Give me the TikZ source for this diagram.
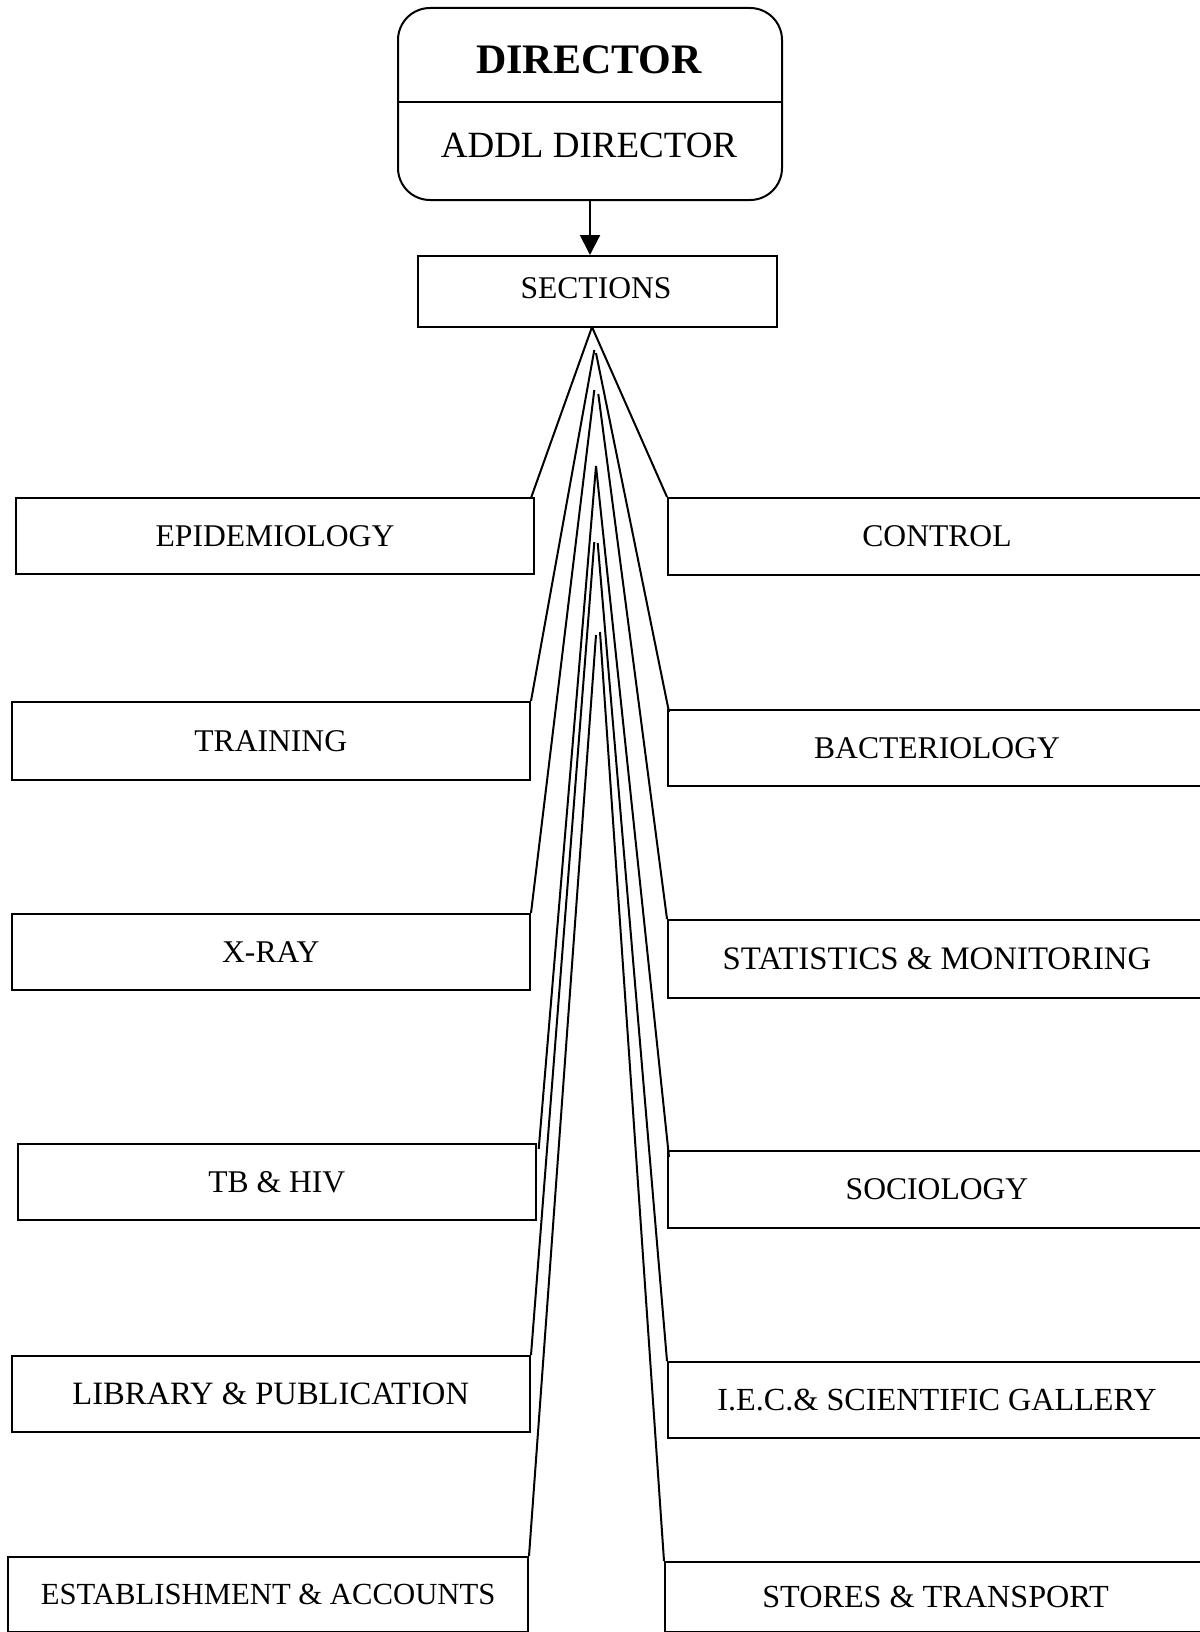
\documentclass[tikz,border=0pt]{standalone}
\usepackage{fontspec}
\setmainfont{Liberation Serif}
\usetikzlibrary{arrows.meta,calc}
\begin{document}
\begin{tikzpicture}[x=0.5pt,y=-0.5pt,
  sbox/.style={draw,line width=1pt,inner sep=0pt,font=\fontsize{15.8}{19}\selectfont},
  conn/.style={line width=1pt},
  lbl/.style={inner sep=0pt,anchor=base}]
\useasboundingbox (0,0) rectangle (1199,1632);

% top box
\node[draw,line width=1pt,rounded corners=16pt,minimum width=192pt,minimum height=96pt,inner sep=0pt] (dir) at (590,104) {};
\draw[conn] ($(dir.north west)!0.49!(dir.south west)$) coordinate (dvl) -- ($(dir.north east)!0.49!(dir.south east)$) coordinate (dvr);
\node[lbl,font=\fontsize{21}{25}\selectfont\bfseries] (dirt) at (589,74) {DIRECTOR};
\node[lbl,font=\fontsize{18.5}{22}\selectfont] (addl) at (589,157) {ADDL DIRECTOR};

% sections
\node[sbox,minimum width=179.5pt,minimum height=35.5pt] (sec) at (597.5,291.5) {};
\node[lbl,font=\fontsize{15.8}{19}\selectfont] (sect) at (596,298) {SECTIONS};
\draw[conn,-{Triangle[width=10pt,length=10pt]}] ($(dir.south)+(0,-2)$) -- (dir.south |- sec.north);

% left boxes
\node[sbox,minimum width=259pt,minimum height=38pt] (epid) at (275,536) {EPIDEMIOLOGY};
\node[sbox,minimum width=259.25pt,minimum height=39pt] (train) at (270.75,741) {TRAINING};
\node[sbox,minimum width=259.25pt,minimum height=38pt] (xray) at (270.75,952) {X-RAY};
\node[sbox,minimum width=259.15pt,minimum height=38pt] (tb) at (276.85,1182) {TB \& HIV};
\node[sbox,minimum width=259.25pt,minimum height=38pt,font=\fontsize{16.3}{19}\selectfont] (lib) at (270.75,1394) {LIBRARY \& PUBLICATION};
\node[sbox,minimum width=259.85pt,minimum height=37.5pt,font=\fontsize{15.35}{19}\selectfont] (est) at (268.15,1594.5) {ESTABLISHMENT \& ACCOUNTS};

% right boxes (run past the right edge of the page)
\node[sbox,minimum width=269pt,minimum height=38.25pt] (ctrl) at (937,536.25) {CONTROL};
\node[sbox,minimum width=269pt,minimum height=38pt] (bact) at (937,748) {BACTERIOLOGY};
\node[sbox,minimum width=269pt,minimum height=39pt,font=\fontsize{16.4}{19}\selectfont] (stat) at (937,959) {STATISTICS \& MONITORING};
\node[sbox,minimum width=269pt,minimum height=38.5pt] (soc) at (937,1189.5) {SOCIOLOGY};
\node[sbox,minimum width=269pt,minimum height=38pt,font=\fontsize{16.1}{19}\selectfont] (iec) at (937,1400) {I.E.C.\& SCIENTIFIC GALLERY};
\node[sbox,minimum width=270.5pt,minimum height=35pt,font=\fontsize{16.1}{19}\selectfont] (stores) at (935.5,1597) {STORES \& TRANSPORT};

% apex points
\coordinate (a1) at (592,327);
\coordinate (a2l) at (594.3,350);
\coordinate (a2r) at (596,353);
\coordinate (a3l) at (594.3,390);
\coordinate (a3r) at (598.3,394);
\coordinate (a4) at (596,466);
\coordinate (a5l) at (594.3,542);
\coordinate (a5r) at (597.7,543);
\coordinate (a6l) at (596,635);
\coordinate (a6r) at (600,632);

% fan connectors
\draw[conn] (a1) -- ($(epid.north east)+(-4,1)$);
\draw[conn] (a1) -- (ctrl.north west);
\draw[conn] (a2l) -- (train.north east);
\draw[conn] (a2r) -- ($(bact.north west)+(2,3)$);
\draw[conn] (a3l) -- (xray.north east);
\draw[conn] (a3r) -- (stat.north west);
\draw[conn] (a4) -- ($(tb.north east)+(1.7,6)$);
\draw[conn] (a4) -- ($(soc.north west)+(2,7)$);
\draw[conn] (a5l) -- (lib.north east);
\draw[conn] (a5r) -- (iec.north west);
\draw[conn] (a6l) -- (est.north east);
\draw[conn] (a6r) -- (stores.north west);
\end{tikzpicture}
\end{document}
